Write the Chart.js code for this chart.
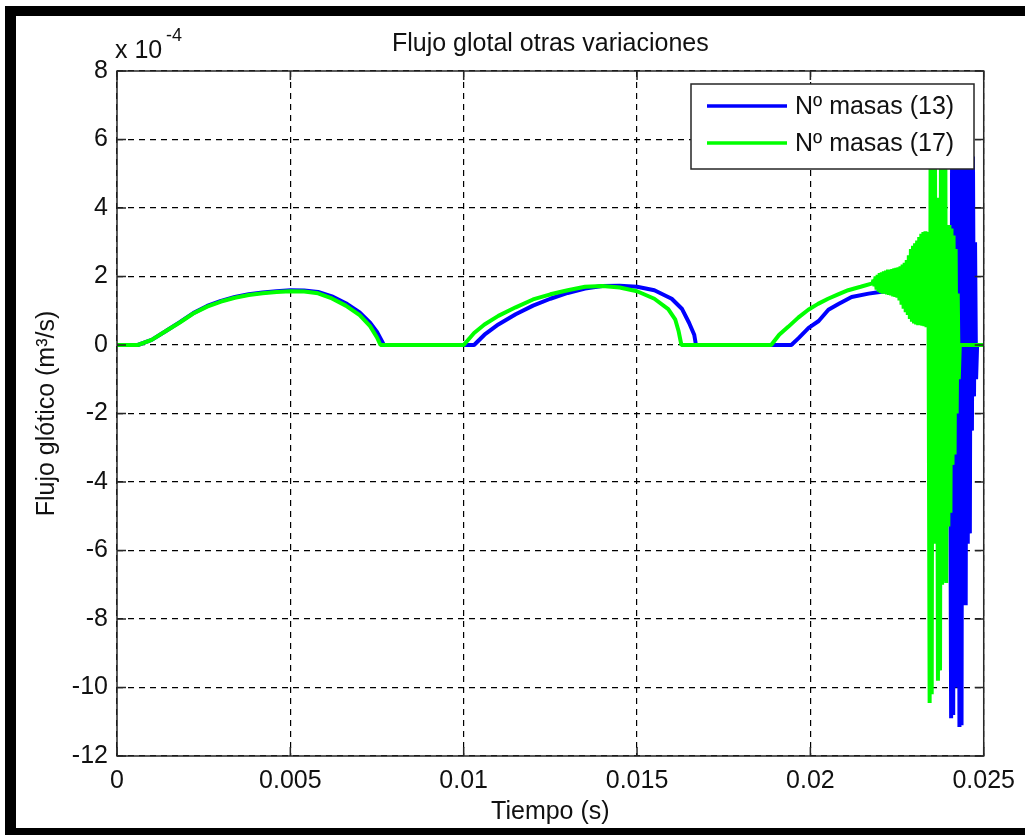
<!DOCTYPE html>
<html lang="es">
<head>
<meta charset="UTF-8">
<title>Flujo glotal otras variaciones</title>
<script src="https://cdn.jsdelivr.net/npm/chart.js"></script>
<style>
  html, body { margin: 0; padding: 0; background: #fff; }
  #wrap { position: relative; width: 1025px; height: 835px; }
</style>
</head>
<body>
<div id="wrap"><canvas id="flujo" width="1025" height="835"></canvas></div>
<script>
// Flujo glótico en unidades de 1e-4 m^3/s frente al tiempo (s)

// 13 masas
const tBlue = [
  0, 0.0006, 0.001, 0.0014, 0.0018, 0.0022, 0.0026, 0.003, 0.0034, 0.0038, 0.0042,
  0.0046, 0.005, 0.0054, 0.0058, 0.0062, 0.0066, 0.007, 0.0073, 0.0075, 0.0077,
  0.0103, 0.0106, 0.011, 0.0115, 0.012, 0.0125, 0.013, 0.0135, 0.014, 0.0145,
  0.015, 0.0155, 0.016, 0.0163, 0.0165, 0.01665, 0.0167,
  0.01945, 0.01966, 0.01995, 0.02024, 0.02052, 0.02081, 0.02119, 0.02168, 0.022,
  0.0225, 0.023, 0.0235, 0.02402,
  0.02406, 0.02409, 0.02412, 0.02415, 0.02418, 0.02421, 0.02424, 0.02427, 0.0243,
  0.02433, 0.02436, 0.02439, 0.02442, 0.02445, 0.02448, 0.02451, 0.02454, 0.02457,
  0.0246, 0.02463, 0.02466, 0.02469, 0.02472, 0.02475, 0.02478, 0.02481, 0.025
];
const qBlue = [
  0, 0, 0.15, 0.4, 0.66, 0.93, 1.14, 1.29, 1.4, 1.48, 1.53,
  1.57, 1.6, 1.59, 1.55, 1.42, 1.22, 0.95, 0.65, 0.38, 0,
  0, 0.3, 0.6, 0.9, 1.15, 1.35, 1.52, 1.65, 1.72, 1.73,
  1.7, 1.6, 1.35, 1.05, 0.65, 0.3, 0,
  0, 0.2, 0.5, 0.7, 1.03, 1.2, 1.4, 1.5, 1.55,
  1.6, 1.65, 1.6, 1.5,
  -10.9, 7.5, -10.8, 7.5, -10, 7.5, -10, 7.5, -11.15,
  7.5, -11.1, 7.5, -7.6, 4.5, -7.6, 7.5, -5.8, 7.5,
  -5.5, 6.5, -2.5, 5.5, -1.5, 3, -1, 0, 0
];

// 17 masas
const tGreen = [
  0, 0.0006, 0.001, 0.0014, 0.0018, 0.0022, 0.0026, 0.003, 0.0034, 0.0038, 0.0042,
  0.0046, 0.005, 0.0054, 0.0058, 0.0062, 0.0066, 0.007, 0.0073, 0.0075, 0.0076,
  0.01, 0.0103, 0.0106, 0.011, 0.0115, 0.012, 0.0125, 0.013, 0.0135, 0.014, 0.0145,
  0.015, 0.0155, 0.0159, 0.0161, 0.0162, 0.01628,
  0.01887, 0.0191, 0.01936, 0.01965, 0.01994, 0.02022, 0.02051, 0.0208, 0.02109,
  0.02145, 0.02179,
  0.02182, 0.02185, 0.02188, 0.02191, 0.02194, 0.02197, 0.022, 0.02203, 0.02206,
  0.02209, 0.02212, 0.02215, 0.02218, 0.02221, 0.02224, 0.02227, 0.0223, 0.02233,
  0.02236, 0.02239, 0.02242, 0.02245, 0.02248, 0.02251, 0.02254, 0.02257, 0.0226,
  0.02263, 0.02266, 0.02269, 0.02272, 0.02275, 0.02278, 0.02281, 0.02284, 0.02287,
  0.0229, 0.02293, 0.02296, 0.02299, 0.02302, 0.02305, 0.02308, 0.02311, 0.02314,
  0.02317, 0.0232, 0.02323, 0.02326, 0.02329, 0.02332, 0.02335, 0.02338, 0.02341,
  0.02344, 0.02347, 0.0235, 0.02353, 0.02356, 0.02359, 0.02362, 0.02365, 0.02368,
  0.02371, 0.02374, 0.02377, 0.0238, 0.02383, 0.02386, 0.02389, 0.02392, 0.02395,
  0.02398, 0.02401, 0.02404, 0.02407, 0.0241, 0.02413, 0.02416, 0.02419, 0.02422,
  0.02425, 0.02428, 0.02431, 0.025
];
const qGreen = [
  0, 0, 0.15, 0.4, 0.65, 0.92, 1.12, 1.27, 1.38, 1.46, 1.51,
  1.55, 1.57, 1.56, 1.51, 1.36, 1.15, 0.87, 0.55, 0.22, 0,
  0, 0.35, 0.6, 0.85, 1.1, 1.33, 1.48, 1.6, 1.7, 1.72, 1.68,
  1.57, 1.35, 1.05, 0.75, 0.4, 0,
  0, 0.3, 0.53, 0.8, 1.03, 1.2, 1.35, 1.48, 1.6,
  1.7, 1.8,
  1.9, 1.72, 2.0, 1.62, 2.05, 1.56, 2.1, 1.52, 2.12,
  1.5, 2.15, 1.5, 2.17, 1.48, 2.2, 1.46, 2.2, 1.45,
  2.22, 1.42, 2.24, 1.4, 2.25, 1.38, 2.27, 1.3, 2.3,
  1.18, 2.35, 1.06, 2.4, 0.96, 2.48, 0.88, 2.62, 0.76,
  2.8, 0.68, 2.9, 0.63, 2.97, 0.6, 3.05, 0.58, 3.15,
  0.58, 3.25, 0.56, 3.3, 0.55, 3.32, 0.52, 3.3, 0.5,
  -10.45, 7.5, -10.2, 7.5, -5.8, 7.5, -5.5, 4.3, -9.8,
  4.3, -9.5, 7.5, -7, 7.5, -6.9, 7.5, -6.95, 3.5,
  -5.3, 3.5, -4.9, 3.4, -3.5, 3.2, -3.2, 2.8, -2,
  1.5, -1, 0, 0
];

const seriesNames = ["Nº masas (13)", "Nº masas (17)"];
const seriesColors = ["#0000ff", "#00ff00"];
const xTicks = [0, 0.005, 0.01, 0.015, 0.02, 0.025];
const xTickLabels = ["0", "0.005", "0.01", "0.015", "0.02", "0.025"];
const yTicks = [-12, -10, -8, -6, -4, -2, 0, 2, 4, 6, 8];

const FONT = "'Liberation Sans', Arial, Helvetica, sans-serif";
const TXT = "#111";

function toPoints(ts, qs) {
  return ts.map((t, i) => ({ x: t, y: qs[i] }));
}

// marco, ticks interiores, textos, leyenda y borde de ventana
const matlabAxes = {
  id: "matlabAxes",
  beforeDraw(chart) {
    const ctx = chart.ctx;
    ctx.save();
    ctx.fillStyle = "#fff";
    ctx.fillRect(0, 0, chart.width, chart.height);
    ctx.restore();
  },
  afterDraw(chart) {
    const { ctx, chartArea: a } = chart;
    const x = chart.scales.x, y = chart.scales.y;
    ctx.save();

    ctx.strokeStyle = "#262626";
    ctx.lineWidth = 1.5;
    ctx.beginPath();
    xTicks.forEach(v => {
      const px = x.getPixelForValue(v);
      ctx.moveTo(px, a.bottom); ctx.lineTo(px, a.bottom - 9);
      ctx.moveTo(px, a.top); ctx.lineTo(px, a.top + 9);
    });
    yTicks.forEach(v => {
      const py = y.getPixelForValue(v);
      ctx.moveTo(a.left, py); ctx.lineTo(a.left + 9, py);
      ctx.moveTo(a.right, py); ctx.lineTo(a.right - 9, py);
    });
    ctx.stroke();
    ctx.strokeRect(a.left, a.top, a.right - a.left, a.bottom - a.top);

    const cx = (a.left + a.right) / 2;
    ctx.fillStyle = TXT;
    ctx.font = "25px " + FONT;
    ctx.textAlign = "center";
    ctx.textBaseline = "middle";
    ctx.fillText("Flujo glotal otras variaciones", cx, 44);
    ctx.fillText("Tiempo (s)", cx, 812);

    ctx.save();
    ctx.translate(47, (a.top + a.bottom) / 2);
    ctx.rotate(-Math.PI / 2);
    ctx.fillText("Flujo glótico (m³/s)", 0, 0);
    ctx.restore();

    // multiplicador del eje y
    ctx.textAlign = "left";
    ctx.textBaseline = "alphabetic";
    ctx.fillText("x 10", 115, 58);
    ctx.font = "18px " + FONT;
    ctx.fillText("-4", 166, 41);

    // leyenda
    const lx = 691, ly = 84, lw = 283, lh = 85;
    ctx.fillStyle = "#fff";
    ctx.fillRect(lx, ly, lw, lh);
    ctx.strokeStyle = "#262626";
    ctx.lineWidth = 1.5;
    ctx.strokeRect(lx, ly, lw, lh);
    ctx.font = "25px " + FONT;
    ctx.textBaseline = "middle";
    seriesNames.forEach((name, i) => {
      const ry = 106 + i * 37;
      ctx.strokeStyle = seriesColors[i];
      ctx.lineWidth = 3.5;
      ctx.beginPath();
      ctx.moveTo(707, ry); ctx.lineTo(787, ry);
      ctx.stroke();
      ctx.fillStyle = TXT;
      ctx.fillText(name, 795, ry + 1);
    });

    // borde negro de la ventana (izquierda, arriba y abajo)
    ctx.fillStyle = "#000";
    ctx.fillRect(5, 6, 1020, 10);
    ctx.fillRect(5, 6, 11, 829);
    ctx.fillRect(5, 828, 1020, 7);
    ctx.restore();
  }
};

new Chart(document.getElementById("flujo"), {
  type: "line",
  data: {
    datasets: [
      {
        label: seriesNames[0],
        data: toPoints(tBlue, qBlue),
        borderColor: seriesColors[0],
        order: 1
      },
      {
        label: seriesNames[1],
        data: toPoints(tGreen, qGreen),
        borderColor: seriesColors[1],
        order: 0
      }
    ]
  },
  options: {
    responsive: false,
    animation: false,
    devicePixelRatio: 1,
    layout: { padding: { top: 71, right: 39, left: 0, bottom: 0 } },
    elements: {
      point: { radius: 0 },
      line: { borderWidth: 4, tension: 0, borderJoinStyle: "bevel", fill: false }
    },
    plugins: {
      legend: { display: false },
      title: { display: false },
      tooltip: { enabled: false }
    },
    scales: {
      x: {
        type: "linear",
        min: 0,
        max: 0.025,
        afterBuildTicks: s => { s.ticks = xTicks.map(v => ({ value: v })); },
        afterFit: s => { s.height = 79; },
        ticks: {
          autoSkip: false,
          maxRotation: 0,
          padding: 10,
          color: TXT,
          font: { family: FONT, size: 25 },
          callback: (v) => xTickLabels[xTicks.indexOf(v)] ?? String(v)
        },
        grid: { color: "#000", lineWidth: 1.2, drawTicks: false },
        border: { display: false, dash: [6, 5] }
      },
      y: {
        min: -12,
        max: 8,
        afterBuildTicks: s => { s.ticks = yTicks.map(v => ({ value: v })); },
        afterFit: s => { s.width = 117; },
        ticks: {
          padding: 9,
          color: TXT,
          font: { family: FONT, size: 25 }
        },
        grid: { color: "#000", lineWidth: 1.2, drawTicks: false },
        border: { display: false, dash: [6, 5] }
      }
    }
  },
  plugins: [matlabAxes]
});
</script>
</body>
</html>
